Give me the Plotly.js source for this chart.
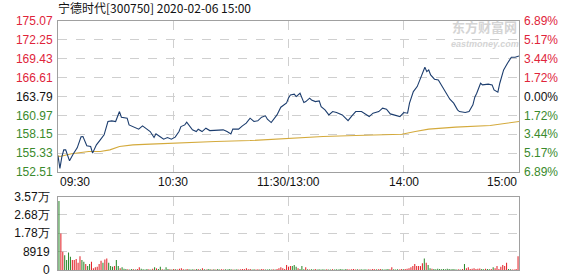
<!DOCTYPE html>
<html><head><meta charset="utf-8">
<script src="https://cdn.plot.ly/plotly-3.0.1.min.js"></script>
<style>html,body{margin:0;padding:0;background:#fff;}#chart{width:578px;height:276px;}</style>
</head><body><div id="chart"></div>
<script>
const chartTitle = '宁德时代[300750] 2020-02-06 15:00';
const prevClose = 163.79;
const priceTicks = [152.51, 155.33, 158.15, 160.97, 163.79, 166.61, 169.43, 172.25, 175.07];
const priceTickText = ['152.51', '155.33', '158.15', '160.97', '163.79', '166.61', '169.43', '172.25', '175.07'];
const pctTickText = ['6.89%', '5.17%', '3.44%', '1.72%', '0.00%', '1.72%', '3.44%', '5.17%', '6.89%'];
const timeTickPos = [0, 60, 120, 180, 240];
const timeTickText = ['09:30', '10:30', '11:30/13:00', '14:00', '15:00'];

const priceMinute = [0,1,2,3,4,6,8,10,12,13,
  15,17,18,20,22,24,26,28,30,32,
  33,36,37,40,42,44,46,48,50,51,
  53,55,57,59,61,63,64,66,67,69,
  70,72,73,75,77,79,81,83,86,88,
  90,91,94,96,98,100,102,104,106,108,
  109,111,114,116,118,119,120,121,123,124,
  126,128,129,131,132,134,136,137,139,141,
  143,145,148,150,151,153,155,158,160,162,
  164,167,169,171,173,176,178,180,182,183,
  185,187,188,190,191,192,193,194,196,198,
  199,201,203,204,206,208,209,212,214,216,
  217,218,220,221,224,226,227,229,230,232,
  234,236,238,240];
const priceValue = [154.93,153.06,154.78,155.82,155.82,154.18,155.23,156.12,157.76,157.81,
  156.42,156.31,155.33,156.57,157.31,158.06,160.05,160.15,160.05,161.54,
  160.70,160.55,159.55,159.21,158.91,159.40,158.91,158.55,157.66,158.21,
  157.81,157.42,157.66,157.42,157.72,158.55,159.30,159.55,159.95,159.30,
  158.81,158.55,158.91,158.55,159.06,158.70,158.70,158.81,158.81,158.55,
  158.21,158.91,158.91,159.40,159.81,160.55,160.05,160.15,160.70,160.90,
  160.40,159.90,161.04,162.19,162.54,162.84,163.58,164.03,164.13,163.78,
  164.28,162.88,163.03,163.54,163.28,163.03,163.13,162.28,161.79,161.04,
  161.54,161.39,161.04,160.55,160.19,160.90,161.54,161.54,161.19,160.79,
  161.30,161.54,162.04,161.89,161.19,160.89,160.79,161.39,161.30,162.79,
  164.52,165.27,166.01,167.27,168.16,167.50,167.76,167.01,166.37,166.27,
  165.77,164.77,163.78,163.39,162.79,161.79,161.54,161.39,161.54,162.54,
  163.69,164.28,165.77,165.52,165.63,165.52,164.77,164.43,165.77,167.76,
  168.76,169.65,169.65,169.85];

const avgMinute = [0,1,7,11,16,22,27,32,39,48,65,82,100,117,120,138,155,179,186,193,207,225,240];
const avgValue = [154.93,154.82,155.23,155.42,155.57,155.57,155.82,156.31,156.57,156.67,156.91,157.06,157.21,157.46,157.57,157.81,157.96,158.16,158.55,158.91,159.21,159.45,160.05];

const volume = [33500,17700,8800,7200,4800,8500,6400,4800,4800,5300,
  3500,6700,4800,4000,2900,1900,2900,4000,800,1300,
  1600,2900,4500,3500,5100,5600,3500,1900,1600,1900,
  4800,1900,800,1300,600,500,400,300,500,400,
  300,500,1300,600,400,300,500,400,300,600,
  1300,800,500,1600,400,300,1300,500,400,300,
  500,400,300,600,900,400,300,500,400,300,
  400,300,500,400,300,900,400,300,500,400,
  300,400,300,500,300,400,300,400,300,500,
  400,300,300,400,300,400,500,400,800,400,
  500,300,400,300,400,300,500,400,300,300,
  400,300,400,300,500,900,1300,900,500,2400,
  1600,1900,1900,2400,1600,800,500,1900,400,1300,
  400,300,400,300,500,300,400,300,400,300,
  400,300,300,400,300,400,300,500,400,300,
  500,400,300,400,500,300,400,300,400,300,
  400,300,400,300,500,400,300,400,500,400,
  300,400,500,400,1300,400,300,400,300,500,
  400,500,600,800,1300,1900,2900,1900,1900,1900,
  3300,5600,3500,2400,800,600,500,400,600,500,
  400,500,400,600,500,400,500,400,300,400,
  300,500,2900,800,1300,500,600,800,500,600,
  700,500,400,600,500,400,500,1300,800,1900,
  500,1600,2400,1900,3500,500,400,300,300,500,
  6700];
const volDir = 'grrggggrrr' + 'rrggrggrrr' + 'rrrgrrgggr' + 'ggrgggrggr' + 'grrggggrgr' +
  'grggrgggrg' + 'rgrrrrgrgg' + 'grgrgrgrgg' + 'rgrggrrggg' + 'grggrrrrrr' +
  'rggrrgrrgg' + 'ggrgrrrrrr' + 'rrgggrgggr' + 'grggrggggg' + 'rggrgggggg' +
  'grrrrrgrgg' + 'ggrrrrgrrg' + 'gggrrgggrr' + 'grrrrrrrrr' + 'rgrggrgggg' +
  'gggggggggr' + 'grgrrrrrrr' + 'rggrggrgrr' + 'rrrrrggrrr' + 'r';
const volTicks = [0, 8919, 17838, 26757, 35676];
const volTickText = ['0', '8919', '1.78万', '2.68万', '3.57万'];

const RED = '#e0243a', GREEN = '#3a8a2c', BLACK = '#111111';
function colorFor(v) { return v > prevClose + 1e-6 ? RED : (v < prevClose - 1e-6 ? GREEN : BLACK); }
const leftText = priceTicks.map((v, i) => '<span style="color:' + colorFor(v) + '">' + priceTickText[i] + '</span>');
const rightText = priceTicks.map((v, i) => '<span style="color:' + colorFor(v) + '">' + pctTickText[i] + '</span>');
const volMinute = volume.map((_, i) => i);
const volColors = volDir.split('').map(c => c === 'r' ? '#e3262c' : '#2e8a2e');

const mainDom = [(270 - 172) / 249, 1];
const volDom = [0, (270 - 196.5) / 249];
const FONT = 'Liberation Sans, Arial, sans-serif';
const gridC = '#cfcfcf', frameC = '#a0a0a0';
function py(pix) { return (270 - pix) / 249; }
function px(pix) { return (pix - 58) / 461; }

const traces = [
  {x: avgMinute, y: avgValue, xaxis: 'x', yaxis: 'y', type: 'scatter', mode: 'lines',
   line: {color: '#d4aa3c', width: 1.1}, hoverinfo: 'skip', showlegend: false},
  {x: priceMinute, y: priceValue, xaxis: 'x', yaxis: 'y', type: 'scatter', mode: 'lines',
   line: {color: '#1c3d6e', width: 1.1}, hoverinfo: 'skip', showlegend: false},
  {x: [120], y: [prevClose], xaxis: 'x', yaxis: 'y3', type: 'scatter', mode: 'markers',
   marker: {opacity: 0}, hoverinfo: 'skip', showlegend: false},
  {x: volMinute, y: volume, xaxis: 'x2', yaxis: 'y2', type: 'bar',
   marker: {color: volColors, line: {width: 0}}, hoverinfo: 'skip', showlegend: false}
];

const annotations = timeTickPos.map((p, i) => ({
  x: p, xref: 'x', y: py(182), yref: 'paper', yanchor: 'middle',
  xanchor: i === 0 ? 'left' : (i === timeTickPos.length - 1 ? 'right' : 'center'),
  text: timeTickText[i], showarrow: false, font: {family: FONT, size: 12, color: '#111'}
}));
annotations.push({x: px(484), xref: 'paper', y: py(27), yref: 'paper', text: '<b>东方财富网</b>',
  showarrow: false, xanchor: 'center', yanchor: 'middle', font: {family: 'Noto Sans CJK SC', size: 13, color: '#d4d4d4'}});
annotations.push({x: px(485), xref: 'paper', y: py(43.5), yref: 'paper', text: '<b><i>eastmoney.com</i></b>',
  showarrow: false, xanchor: 'center', yanchor: 'middle', font: {family: FONT, size: 9, color: '#d4d4d4'}});

const layout = {
  width: 578, height: 276,
  margin: {l: 58, r: 59, t: 21, b: 6, pad: 0},
  paper_bgcolor: '#ffffff', plot_bgcolor: '#ffffff',
  font: {family: FONT, size: 12, color: '#111'},
  title: {text: chartTitle, x: 58 / 578, xref: 'container', xanchor: 'left',
          y: 1 - 9 / 276, yref: 'container', yanchor: 'middle',
          font: {family: 'Noto Sans CJK SC', size: 12, color: '#111'}},
  showlegend: false,
  bargap: 0.45,
  xaxis: {domain: [0, 1], range: [0, 240], tickvals: timeTickPos, showticklabels: false, ticks: '',
          showgrid: true, gridcolor: gridC, griddash: 'dash', gridwidth: 1, zeroline: false,
          showline: true, mirror: true, linecolor: frameC, linewidth: 1, anchor: 'y'},
  yaxis: {domain: mainDom, range: [152.51, 175.07], tickvals: priceTicks, ticktext: leftText, ticks: '',
          showgrid: true, gridcolor: gridC, griddash: 'dash', gridwidth: 1, zeroline: false,
          showline: true, mirror: true, linecolor: frameC, linewidth: 1, anchor: 'x',
          tickfont: {family: FONT, size: 12}, ticklabelstandoff: 2, ticklabeloverflow: 'allow'},
  yaxis3: {overlaying: 'y', side: 'right', range: [152.51, 175.07], tickvals: priceTicks, ticktext: rightText,
          ticks: '', showgrid: false, zeroline: false, showline: false, anchor: 'x',
          tickfont: {family: FONT, size: 12}, ticklabelstandoff: 4, ticklabeloverflow: 'allow'},
  xaxis2: {domain: [0, 1], range: [-0.5, 240.5], tickvals: timeTickPos, showticklabels: false, ticks: '',
          showgrid: true, gridcolor: gridC, griddash: 'dash', gridwidth: 1, zeroline: false,
          showline: true, mirror: true, linecolor: frameC, linewidth: 1, anchor: 'y2'},
  yaxis2: {domain: volDom, range: [0, 35676], tickvals: volTicks, ticktext: volTickText, ticks: '',
          showgrid: true, gridcolor: gridC, griddash: 'dash', gridwidth: 1, zeroline: false,
          showline: true, mirror: true, linecolor: frameC, linewidth: 1, anchor: 'x2',
          tickfont: {family: FONT, size: 12, color: '#111'}, ticklabelstandoff: 5, ticklabeloverflow: 'allow'},
  annotations: annotations
};

Plotly.newPlot('chart', traces, layout, {staticPlot: true, displayModeBar: false});
</script></body></html>
